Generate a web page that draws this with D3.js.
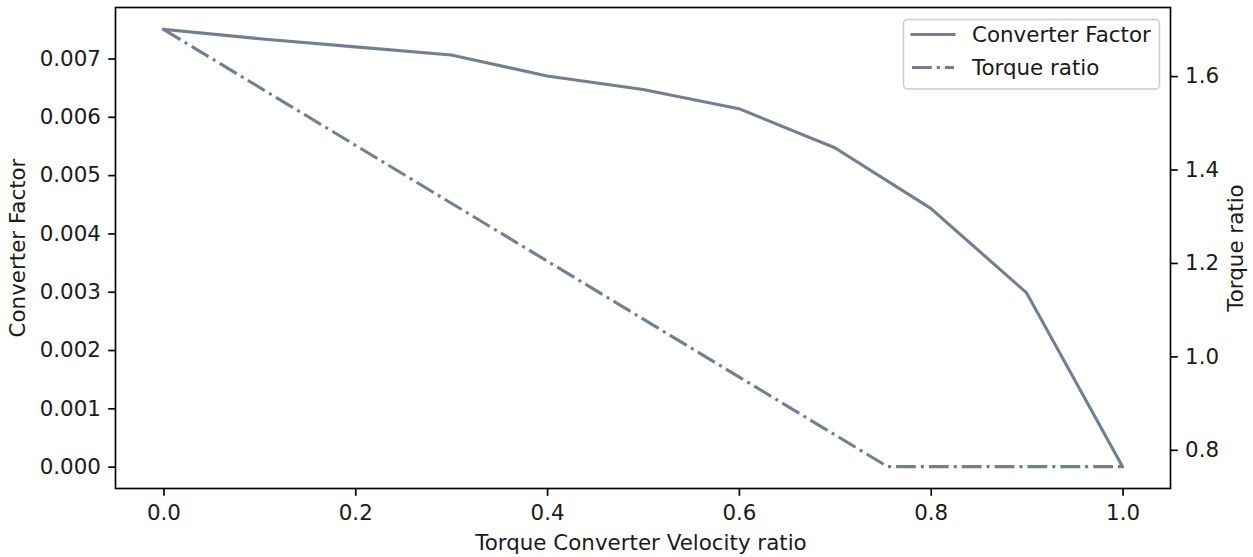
<!DOCTYPE html>
<html>
<head>
<meta charset="utf-8">
<script src="https://cdn.jsdelivr.net/npm/d3@7"></script>
<style>
  html, body { margin: 0; padding: 0; background: #ffffff; }
  svg { display: block; font-family: "DejaVu Sans", sans-serif; }
</style>
</head>
<body>
<svg id="chart" width="1253" height="557"></svg>
<script>
// Velocity ratio samples for the converter factor curve
const velocityRatio = [0.0, 0.1, 0.2, 0.3, 0.4, 0.5, 0.6, 0.7, 0.8, 0.9, 1.0];
const converterFactor = [0.00750, 0.00734, 0.00720, 0.00706, 0.00670, 0.00647, 0.00614, 0.00547, 0.00443, 0.00298, 0.0];

// Torque ratio: linear drop until the coupling point, then constant
const torqueVelocity = [0.0, 0.755, 1.0];
const torqueRatio = [1.70, 0.764, 0.764];

// Tick labels
const xTicks = [0.0, 0.2, 0.4, 0.6, 0.8, 1.0];
const leftTicks = [0.000, 0.001, 0.002, 0.003, 0.004, 0.005, 0.006, 0.007];
const rightTicks = [0.8, 1.0, 1.2, 1.4, 1.6];

const seriesNames = ["Converter Factor", "Torque ratio"];
const lineColor = "#708090";
const textColor = "#1a1a1a";

const fontSize = 21.4;
const tickLen = 7.3;
const tickPad = 7.3;
const spineWidth = 1.67;
const lineWidth = 3.1;

const plot = { left: 115.5, right: 1170.5, top: 7.5, bottom: 488.5 };

const svg = d3.select("#chart");

// Axis domains padded by 5% of the data span on each side
function padded(values) {
  const [lo, hi] = d3.extent(values);
  const m = (hi - lo) * 0.05;
  return [lo - m, hi + m];
}

const x = d3.scaleLinear().domain(padded(velocityRatio)).range([plot.left, plot.right]);
const yLeft = d3.scaleLinear().domain(padded(converterFactor)).range([plot.bottom, plot.top]);
const yRight = d3.scaleLinear().domain(padded(torqueRatio)).range([plot.bottom, plot.top]);

// Lines
const cfLine = d3.line()
  .x((d, i) => x(velocityRatio[i]))
  .y(d => yLeft(d));
const trLine = d3.line()
  .x((d, i) => x(torqueVelocity[i]))
  .y(d => yRight(d));

svg.append("path")
  .attr("d", cfLine(converterFactor))
  .attr("fill", "none")
  .attr("stroke", lineColor)
  .attr("stroke-width", lineWidth)
  .attr("stroke-linejoin", "round")
  .attr("stroke-linecap", "square");

const dashPattern = [6.4, 1.6, 1.0, 1.6].map(v => v * lineWidth).join(",");
svg.append("path")
  .attr("d", trLine(torqueRatio))
  .attr("fill", "none")
  .attr("stroke", lineColor)
  .attr("stroke-width", lineWidth)
  .attr("stroke-linejoin", "round")
  .attr("stroke-dasharray", dashPattern);

// Axes
function styleAxis(g) {
  g.select(".domain").remove();
  g.selectAll(".tick line").attr("stroke", "#000").attr("stroke-width", spineWidth);
  g.selectAll(".tick text")
    .attr("fill", textColor)
    .style("font-size", fontSize + "px")
    .style("font-family", "'DejaVu Sans', sans-serif");
}

svg.append("g")
  .attr("transform", `translate(0,${plot.bottom})`)
  .call(d3.axisBottom(x).tickValues(xTicks).tickFormat(d3.format(".1f"))
    .tickSize(tickLen).tickPadding(tickPad + 1.5))
  .call(styleAxis);

svg.append("g")
  .attr("transform", `translate(${plot.left},0)`)
  .call(d3.axisLeft(yLeft).tickValues(leftTicks).tickFormat(d3.format(".3f"))
    .tickSize(tickLen).tickPadding(tickPad))
  .call(styleAxis);

svg.append("g")
  .attr("transform", `translate(${plot.right},0)`)
  .call(d3.axisRight(yRight).tickValues(rightTicks).tickFormat(d3.format(".1f"))
    .tickSize(tickLen).tickPadding(tickPad))
  .call(styleAxis);

// Frame
svg.append("rect")
  .attr("x", plot.left).attr("y", plot.top)
  .attr("width", plot.right - plot.left).attr("height", plot.bottom - plot.top)
  .attr("fill", "none").attr("stroke", "#000").attr("stroke-width", spineWidth);

// Axis titles
svg.append("text")
  .attr("x", 641).attr("y", 550)
  .attr("text-anchor", "middle")
  .style("font-size", fontSize + "px").attr("fill", textColor)
  .text("Torque Converter Velocity ratio");

svg.append("text")
  .attr("transform", `translate(25,${(plot.top + plot.bottom) / 2}) rotate(-90)`)
  .attr("text-anchor", "middle")
  .style("font-size", fontSize + "px").attr("fill", textColor)
  .text("Converter Factor");

svg.append("text")
  .attr("transform", `translate(1243,${(plot.top + plot.bottom) / 2}) rotate(-90)`)
  .attr("text-anchor", "middle")
  .style("font-size", fontSize + "px").attr("fill", textColor)
  .text("Torque ratio");

// Legend
const legend = svg.append("g");
legend.append("rect")
  .attr("x", 903.5).attr("y", 19.5)
  .attr("width", 256).attr("height", 69.5)
  .attr("rx", 4).attr("ry", 4)
  .attr("fill", "#ffffff").attr("fill-opacity", 0.8)
  .attr("stroke", "#cccccc").attr("stroke-width", 1.5);

const rowY = [34.5, 67.5];
seriesNames.forEach((name, i) => {
  const item = legend.append("g");
  item.append("line")
    .attr("x1", 912).attr("x2", 954)
    .attr("y1", rowY[i]).attr("y2", rowY[i])
    .attr("stroke", lineColor).attr("stroke-width", lineWidth)
    .attr("stroke-linecap", i === 0 ? "square" : "butt")
    .attr("stroke-dasharray", i === 0 ? null : dashPattern);
  item.append("text")
    .attr("x", 972).attr("y", rowY[i]).attr("dy", "0.36em")
    .style("font-size", fontSize + "px").attr("fill", textColor)
    .text(name);
});
</script>
</body>
</html>
